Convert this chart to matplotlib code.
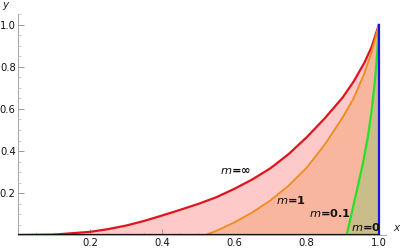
import matplotlib
matplotlib.use("Agg")
import matplotlib.pyplot as plt
from matplotlib.ticker import MultipleLocator

# Data
red_x = [0, 0.1, 0.2, 0.25, 0.3, 0.35, 0.4, 0.45, 0.5, 0.55, 0.6, 0.65, 0.7, 0.75, 0.8, 0.85, 0.9, 0.93, 0.96, 0.98, 1.0]
red_y = [0, 0.002, 0.015, 0.028, 0.045, 0.067, 0.093, 0.12, 0.148, 0.18, 0.22, 0.265, 0.318, 0.385, 0.465, 0.555, 0.655, 0.73, 0.82, 0.895, 1.0]

orange_x = [0.52, 0.55, 0.6, 0.65, 0.7, 0.75, 0.8, 0.85, 0.9, 0.93, 0.96, 0.98, 1.0]
orange_y = [0, 0.02, 0.06, 0.108, 0.165, 0.235, 0.32, 0.43, 0.56, 0.65, 0.77, 0.87, 1.0]

green_x = [0.911, 0.925, 0.943, 0.957, 0.97, 0.98, 0.989, 0.995, 1.0]
green_y = [0, 0.105, 0.24, 0.35, 0.47, 0.59, 0.73, 0.85, 1.0]

blue_x = [1.0, 1.0]
blue_y = [0.0, 1.0]

labels = ["m=\u221e", "m=1", "m=0.1", "m=0"]
label_pos = [(0.604, 0.305), (0.757, 0.167), (0.865, 0.105), (0.965, 0.038)]

xticks = [0.2, 0.4, 0.6, 0.8, 1.0]
yticks = [0.2, 0.4, 0.6, 0.8, 1.0]

fig = plt.figure(figsize=(4.0, 2.49), dpi=100)
ax = fig.add_axes([0.0445, 0.0562, 0.9205, 0.8856])
ax.set_xlim(0, 1.02)
ax.set_ylim(0, 1.05)

pink = "#fdc9c9"
salmon = "#f8b69e"
olive = "#cbbd8a"

ax.fill(red_x + [1.0], red_y + [0.0], color=pink, lw=0, zorder=1)
ax.fill(orange_x + [1.0], orange_y + [0.0], color=salmon, lw=0, zorder=2)
ax.fill(green_x + [1.0], green_y + [0.0], color=olive, lw=0, zorder=3)

ax.plot(red_x, red_y, color="#e0141e", lw=1.6, zorder=5)
ax.plot(orange_x, orange_y, color="#f08c1e", lw=1.3, zorder=5)
ax.plot(green_x, green_y, color="#28e028", lw=1.6, zorder=5)
ax.plot(blue_x, blue_y, color="#1414e0", lw=1.6, zorder=6)
ax.plot([0, 1], [0, 0], color="#111111", lw=1.6, zorder=6)

for t, (px, py) in zip(labels, label_pos):
    m, rest = t.split("=")
    ax.text(px, py, r"$\it{m}$" + "=" + rest, fontsize=8.2, fontweight="semibold",
            ha="center", va="center", color="#111111", zorder=7)

for s in ["top", "right"]:
    ax.spines[s].set_visible(False)
ax.spines["left"].set_color("#aaaaaa")
ax.spines["bottom"].set_color("#aaaaaa")
ax.spines["left"].set_linewidth(0.8)
ax.spines["bottom"].set_linewidth(0.8)

ax.set_xticks(xticks)
ax.set_yticks(yticks)
ax.set_xticklabels([f"{v:.1f}" for v in xticks])
ax.set_yticklabels([f"{v:.1f}" for v in yticks])
ax.xaxis.set_minor_locator(MultipleLocator(0.05))
ax.yaxis.set_minor_locator(MultipleLocator(0.05))
ax.tick_params(axis="both", which="major", direction="in", length=4, width=0.7,
               color="#999999", labelsize=7.2, labelcolor="#111111", pad=2)
ax.tick_params(axis="both", which="minor", direction="in", length=2, width=0.5,
               color="#bbbbbb")
ax.tick_params(axis="y", pad=1.5)

fig.text(5 / 400, 1 - 5 / 249, "y", fontsize=7.5, style="italic", ha="center", va="center",
         color="#222222")
fig.text(396 / 400, 1 - 228 / 249, "x", fontsize=7.5, style="italic", ha="center", va="center",
         color="#222222")

fig.savefig("out.png", dpi=100)
